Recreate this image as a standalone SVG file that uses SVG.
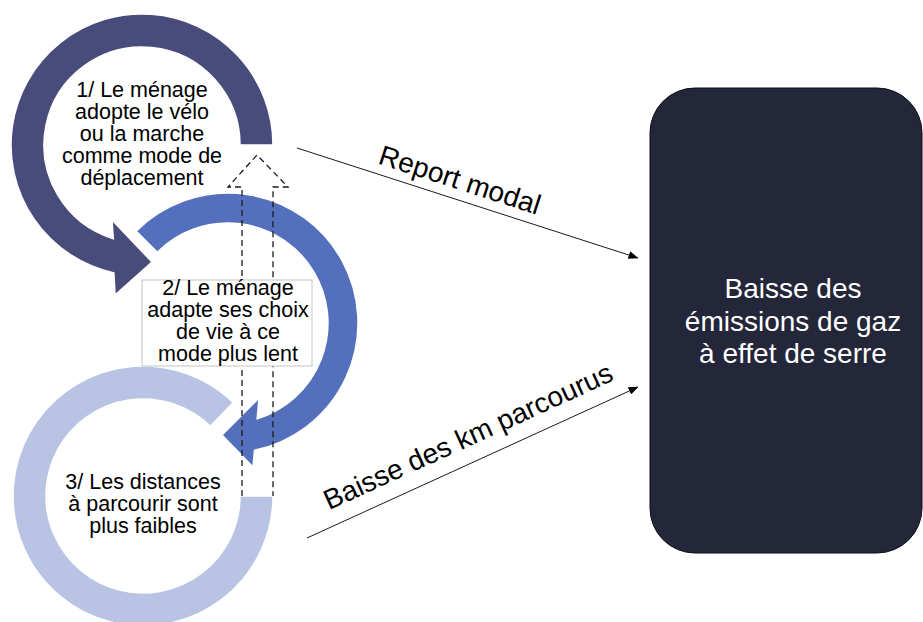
<svg xmlns="http://www.w3.org/2000/svg" width="923" height="622" viewBox="0 0 923 622">
  <defs>
    <marker id="arrow" markerWidth="10" markerHeight="8" refX="9.5" refY="4" orient="auto" markerUnits="userSpaceOnUse">
      <path d="M0,0 L10,4 L0,8 Z" fill="#000"/>
    </marker>
    <style>
      .ring { stroke: #ffffff; stroke-width: 1.5; }
      .r1 { fill: #484c7a; }
      .r2 { fill: #5470bd; }
      .r3 { fill: #b9c4e4; }
      .t { font-family: "Liberation Sans", Arial, sans-serif; font-size: 21.5px; fill: #000; text-anchor: middle; }
      .tw { font-family: "Liberation Sans", Arial, sans-serif; font-size: 28px; fill: #ffffff; text-anchor: middle; }
      .lbl { font-family: "Liberation Sans", Arial, sans-serif; font-size: 28px; fill: #000; text-anchor: middle; }
      .conn { stroke: #1a1a1a; stroke-width: 1; fill: none; }
      .dash { stroke: #1a1a1a; stroke-width: 1.3; fill: none; stroke-dasharray: 6 4; }
    </style>
  </defs>
  <rect width="923" height="622" fill="#ffffff"/>

  <g id="node3">
    <path class="ring r3" d="M 273 496 A 130 130 0 1 1 233.3 402.5 L 210.4 426.2 A 97 97 0 1 0 240 496 Z"/>
    <text class="t" x="143" y="489">3/ Les distances</text>
    <text class="t" x="143" y="511">à parcourir sont</text>
    <text class="t" x="143" y="533">plus faibles</text>
  </g>

  <g id="node2">
    <path class="ring r2" d="M 136.1 231.1 A 130 130 0 1 1 254.5 450.3 L 253 467 L 222 435 L 259 398 L 257.2 418.7 A 100 100 0 1 0 157.3 252.3 Z"/>
  </g>

  <g id="node1">
    <path class="ring r1" d="M 273 145 A 131 131 0 1 0 113.9 272.9 L 115 295 L 152 262 L 112 220 L 113.3 238.7 A 98 98 0 1 1 240 145 Z"/>
    <text class="t" x="142" y="97">1/ Le ménage</text>
    <text class="t" x="142" y="119">adopte le vélo</text>
    <text class="t" x="142" y="141">ou la marche</text>
    <text class="t" x="142" y="163">comme mode de</text>
    <text class="t" x="142" y="185">déplacement</text>
  </g>

  <g id="connectors">
    <path id="feedback" class="dash" d="M 242 496 L 242 187 L 228 187 L 257 155 L 288 187 L 273 187 L 273 496"/>
    <line class="conn" x1="297" y1="148" x2="638" y2="258" marker-end="url(#arrow)"/>
    <line class="conn" x1="307" y1="538" x2="638" y2="387" marker-end="url(#arrow)"/>
    <text class="lbl" transform="translate(457,189) rotate(17.9)" x="0" y="0">Report modal</text>
    <text class="lbl" transform="translate(472,445) rotate(-24.5)" x="0" y="0">Baisse des km parcourus</text>
  </g>

  <g id="node2-label">
    <rect x="142" y="280" width="170" height="86" fill="#ffffff" stroke="#c4c4c4" stroke-width="1"/>
    <text class="t" x="228" y="295">2/ Le ménage</text>
    <text class="t" x="228" y="317">adapte ses choix</text>
    <text class="t" x="228" y="339">de vie à ce</text>
    <text class="t" x="228" y="361">mode plus lent</text>
  </g>

  <g id="result">
    <rect x="650" y="88" width="272" height="465" rx="45" ry="45" fill="#24263a" stroke="#0d0d14" stroke-width="1"/>
    <text class="tw" x="793" y="298">Baisse des</text>
    <text class="tw" x="793" y="330.5">émissions de gaz</text>
    <text class="tw" x="793" y="363">à effet de serre</text>
  </g>
</svg>
